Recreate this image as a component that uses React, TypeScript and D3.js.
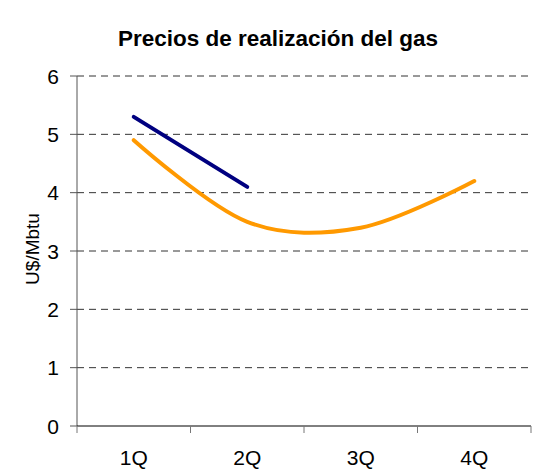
import React from "react";
import * as d3 from "d3";

const quarters = ["1Q", "2Q", "3Q", "4Q"];
const orangeValues = [4.9, 3.5, 3.4, 4.2];
const blueValues = [5.3, 4.1];
const yTicks = [0, 1, 2, 3, 4, 5, 6];

const width = 533;
const height = 469;
const margin = { top: 76, right: 2, bottom: 43, left: 77 };

export default function App() {
  const innerW = width - margin.left - margin.right;
  const innerH = height - margin.top - margin.bottom;

  const x = d3.scaleBand().domain(quarters).range([0, innerW]);
  const y = d3.scaleLinear().domain([0, 6]).range([innerH, 0]);

  const line = d3
    .line<number>()
    .x((d, i) => (x(quarters[i]) ?? 0) + x.bandwidth() / 2)
    .y((d) => y(d))
    .curve(d3.curveCardinal.tension(0));

  const straight = d3
    .line<number>()
    .x((d, i) => (x(quarters[i]) ?? 0) + x.bandwidth() / 2)
    .y((d) => y(d));

  return (
    <svg
      width={width}
      height={height}
      style={{ position: "absolute", left: 0, top: 0, fontFamily: "Liberation Sans, Arial, sans-serif" }}
    >
      <text x={278} y={46} textAnchor="middle" fontSize={22.5} fontWeight="bold">
        Precios de realización del gas
      </text>
      <text
        transform={`translate(39,${margin.top + innerH / 2 - 2}) rotate(-90)`}
        textAnchor="middle"
        fontSize={19}
      >
        U$/Mbtu
      </text>
      <g transform={`translate(${margin.left},${margin.top})`}>
        {yTicks.map((t) => (
          <g key={t}>
            {t > 0 && (
              <line x1={0} x2={innerW} y1={y(t)} y2={y(t)} stroke="#333" strokeDasharray="7,5" strokeWidth={1} />
            )}
            <line x1={-7} x2={0} y1={y(t)} y2={y(t)} stroke="#555" />
            <text x={-18} y={y(t)} dy="0.36em" textAnchor="end" fontSize={21}>
              {t}
            </text>
          </g>
        ))}
        <line x1={0} x2={0} y1={0} y2={innerH} stroke="#555" />
        <line x1={0} x2={innerW} y1={innerH} y2={innerH} stroke="#000" />
        {quarters.map((q, i) => (
          <g key={q}>
            <line
              x1={(x(q) ?? 0) + x.bandwidth()}
              x2={(x(q) ?? 0) + x.bandwidth()}
              y1={innerH}
              y2={innerH + 7}
              stroke="#777"
            />
            {i === 0 && <line x1={0} x2={0} y1={innerH} y2={innerH + 7} stroke="#777" />}
            <text x={(x(q) ?? 0) + x.bandwidth() / 2} y={innerH + 39} textAnchor="middle" fontSize={21}>
              {q}
            </text>
          </g>
        ))}
        <path d={line(orangeValues) ?? ""} fill="none" stroke="#FF9900" strokeWidth={4} strokeLinecap="round" />
        <path d={straight(blueValues) ?? ""} fill="none" stroke="#000080" strokeWidth={4} strokeLinecap="round" />
      </g>
    </svg>
  );
}
